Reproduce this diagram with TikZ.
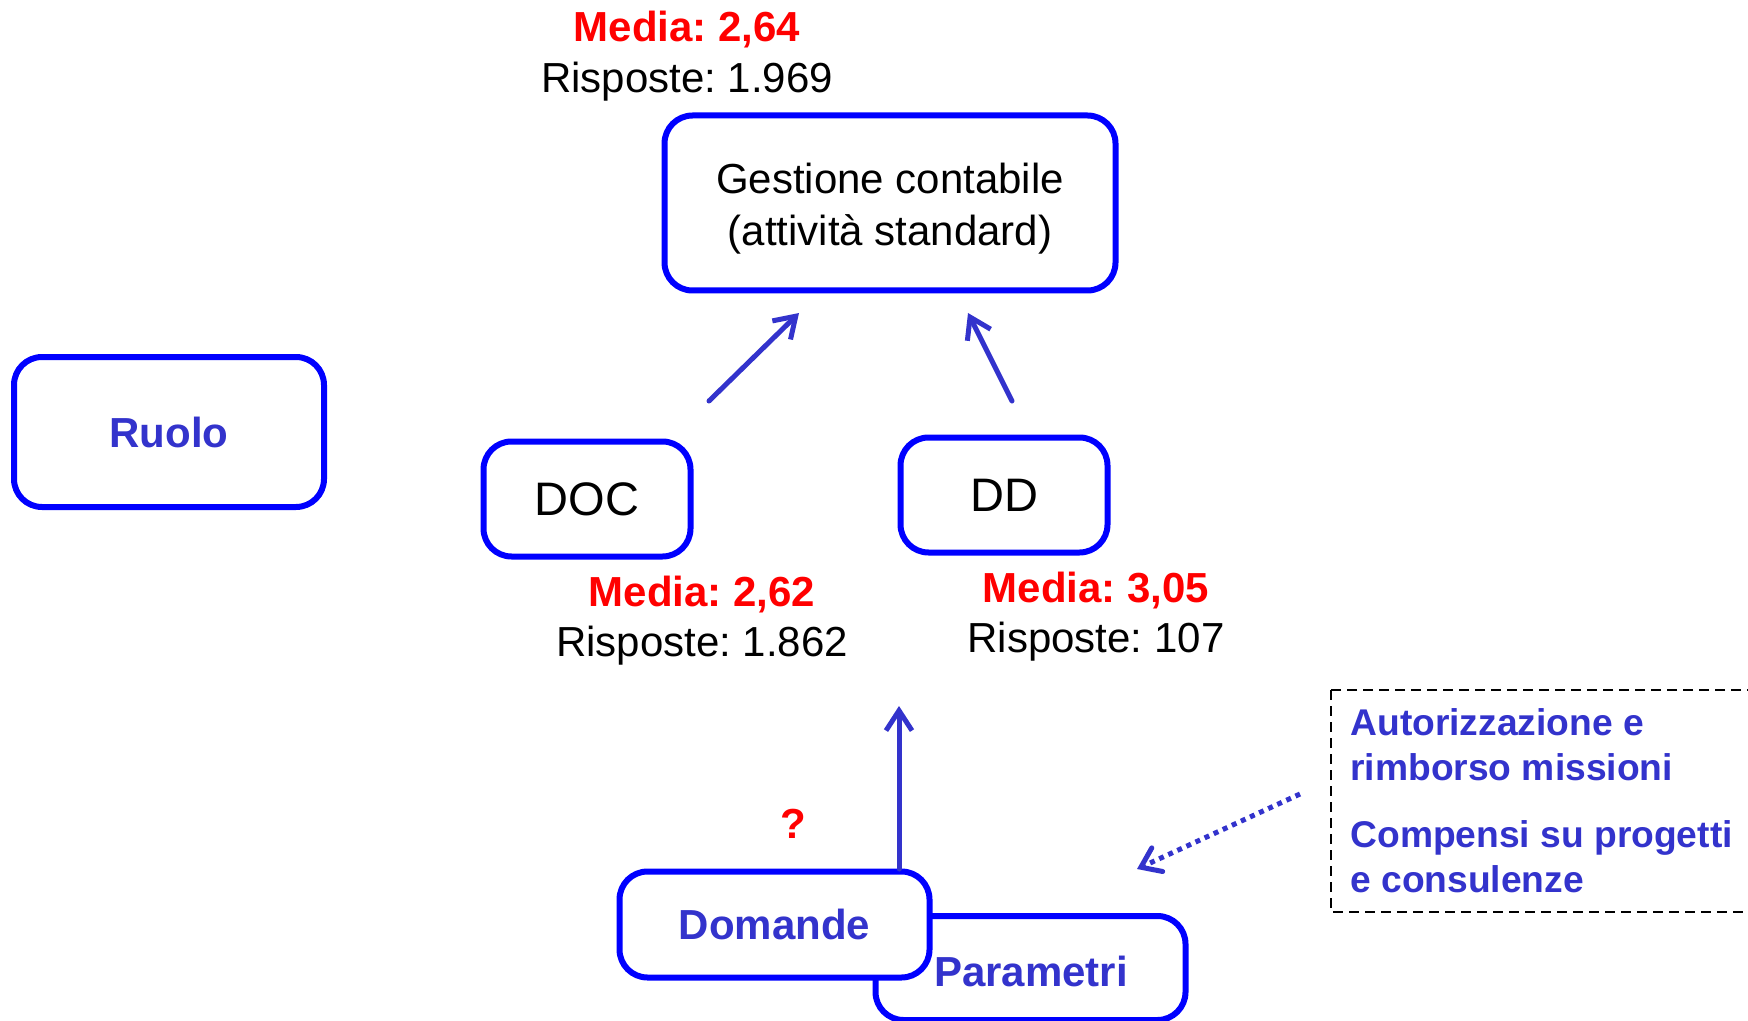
\documentclass[tikz,border=0pt]{standalone}
\usepackage{fontspec}
\setmainfont{Liberation Sans}
\usetikzlibrary{arrows.meta}
\definecolor{boxblue}{RGB}{0,0,255}
\definecolor{txtblue}{RGB}{51,51,204}
\definecolor{redtxt}{RGB}{255,0,0}
\frenchspacing
\begin{document}
\begin{tikzpicture}[x=0.5pt,y=-0.5pt,
  rbox/.style={draw=boxblue, line width=3pt, rounded corners=14pt, inner sep=0pt, fill=white, align=center},
  bigtxt/.style={font=\fontsize{21}{26}\selectfont, align=center, inner sep=0pt},
  bluetxt/.style={text=txtblue, font=\fontsize{21}{26}\selectfont\bfseries},
  mlabel/.style={text=redtxt, font=\fontsize{21}{25}\selectfont\bfseries, inner sep=0pt},
  rlabel/.style={font=\fontsize{21}{25}\selectfont, inner sep=0pt},
  conn/.style={draw=txtblue, line width=2.5pt, line cap=round, -{Straight Barb[length=10pt,width=13pt]}},
  dotconn/.style={draw=txtblue, line width=2.5pt, dash pattern=on 2.5pt off 2.5pt, -{Straight Barb[length=9pt,width=13pt,line cap=round]}},
  notebox/.style={draw=black, line width=0.8pt, dash pattern=on 5pt off 3pt},
  notetxt/.style={text=txtblue, font=\fontsize{18.6}{22.5}\selectfont\bfseries, align=left, inner sep=0pt, anchor=west}]
\useasboundingbox (0,0) rectangle (1748,1021);

% main boxes
\node[rbox, minimum width=225.5pt, minimum height=87.5pt] (gest) at (890,203) {};
\node[bigtxt] (gesttxt) at (890,209) {Gestione contabile\\(attività standard)};
\node[rbox, bluetxt, minimum width=155pt, minimum height=75pt] (ruolo) at (169,432) {Ruolo};
\node[rbox, font=\fontsize{23.5}{28}\selectfont, minimum width=103.5pt, minimum height=57.5pt] (doc) at (587,499) {DOC};
\node[rbox, font=\fontsize{23.5}{28}\selectfont, minimum width=103.5pt, minimum height=57.5pt] (dd) at (1004,495) {DD};
\node[rbox, minimum width=155pt, minimum height=52pt] (param) at (1030.5,968) {};
\node[bluetxt, inner sep=0pt] (paramtxt) at (1031,971) {Parametri};
\node[rbox, bluetxt, minimum width=155pt, minimum height=53pt] (dom) at (774.5,924.5) {Domande};

% labels
\node[mlabel] (m1) at (687,30) {Media: 2,64};
\node[rlabel] (r1) at (687,82) {Risposte: 1.969};
\node[mlabel] (m2) at (702,595) {Media: 2,62};
\node[rlabel] (r2) at (702,646) {Risposte: 1.862};
\node[mlabel] (m3) at (1096,591) {Media: 3,05};
\node[rlabel] (r3) at (1096,642) {Risposte: 107};
\node[mlabel] (q) at (793,824) {?};

% connectors
\coordinate (a1s) at (709,401); \coordinate (a1e) at (799,313);
\coordinate (a2s) at (1012,401); \coordinate (a2e) at (968,313);
\coordinate (a3s) at (899,869); \coordinate (a3e) at (899,706);
\coordinate (a4s) at (1300,794); \coordinate (a4e) at (1137,869);
\draw[conn] (a1s) -- (a1e);
\draw[conn] (a2s) -- (a2e);
\draw[conn] (a3s) -- (a3e);
\draw[dotconn] (a4s) -- (a4e);

% note box
\draw[notebox] (1331,690) rectangle (1770,912);
\node[notetxt] (n1) at (1350,745) {Autorizzazione e\\rimborso missioni};
\node[notetxt] (n2) at (1350,857) {Compensi su progetti\\e consulenze};
\end{tikzpicture}
\end{document}
